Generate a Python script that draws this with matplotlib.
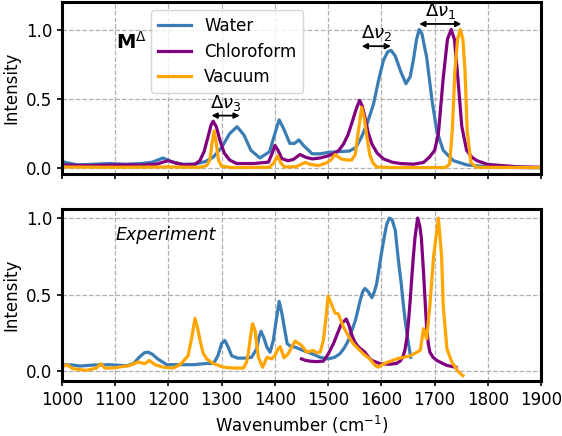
import numpy as np
import matplotlib
matplotlib.use('Agg')
import matplotlib.pyplot as plt

# computed spectra (top panel)
calc_water_x = [1000, 1010, 1030, 1060, 1090, 1120, 1150, 1170, 1190, 1205, 1225, 1250, 1270, 1284,
                1300, 1315, 1329, 1342, 1355, 1372, 1390, 1400, 1408, 1416, 1428, 1437, 1445, 1455,
                1470, 1485, 1500, 1520, 1540, 1552, 1562, 1573, 1585, 1595, 1604, 1612, 1618, 1626,
                1636, 1646, 1654, 1660, 1666, 1671, 1676, 1685, 1695, 1704, 1716, 1735, 1760, 1800,
                1850, 1900]
calc_water_y = [0.05, 0.04, 0.025, 0.03, 0.035, 0.03, 0.035, 0.045, 0.075, 0.05, 0.03, 0.03, 0.05, 0.08,
                0.15, 0.25, 0.30, 0.24, 0.13, 0.075, 0.12, 0.25, 0.35, 0.29, 0.18, 0.18, 0.205, 0.16,
                0.105, 0.105, 0.115, 0.12, 0.125, 0.15, 0.22, 0.32, 0.46, 0.64, 0.78, 0.84, 0.85, 0.81,
                0.70, 0.61, 0.66, 0.78, 0.93, 1.0, 0.97, 0.80, 0.49, 0.27, 0.13, 0.056, 0.025, 0.012,
                0.006, 0.004]

calc_chcl3_x = [1000, 1050, 1100, 1150, 1178, 1190, 1200, 1212, 1230, 1250, 1259, 1267, 1274, 1280,
                1284, 1290, 1297, 1305, 1315, 1328, 1360, 1388, 1395, 1400, 1406, 1413, 1425, 1435,
                1447, 1458, 1470, 1485, 1500, 1510, 1520, 1529, 1537, 1544, 1552, 1559, 1564, 1569,
                1575, 1582, 1592, 1604, 1620, 1635, 1660, 1679, 1690, 1700, 1707, 1716, 1724, 1731,
                1737, 1742, 1751, 1760, 1770, 1779, 1798, 1810, 1854, 1900]
calc_chcl3_y = [0.025, 0.02, 0.025, 0.025, 0.03, 0.045, 0.055, 0.04, 0.025, 0.03, 0.055, 0.12, 0.22, 0.31,
                0.34, 0.30, 0.20, 0.11, 0.06, 0.035, 0.035, 0.045, 0.11, 0.165, 0.13, 0.07, 0.055, 0.065,
                0.10, 0.08, 0.068, 0.075, 0.09, 0.105, 0.13, 0.176, 0.24, 0.32, 0.42, 0.49, 0.45, 0.37,
                0.26, 0.176, 0.11, 0.068, 0.045, 0.035, 0.03, 0.043, 0.08, 0.13, 0.25, 0.65, 0.93, 1.0,
                0.93, 0.72, 0.30, 0.13, 0.08, 0.056, 0.03, 0.025, 0.012, 0.008]

calc_vac_x = [1000, 1100, 1200, 1260, 1272, 1278, 1282, 1286, 1290, 1294, 1300, 1320, 1390, 1398,
              1405, 1411, 1418, 1440, 1450, 1457, 1465, 1482, 1497, 1505, 1513, 1520, 1525, 1535,
              1544, 1551, 1556, 1563, 1568, 1573, 1578, 1584, 1591, 1620, 1720, 1728, 1733, 1738,
              1743, 1748, 1753, 1757, 1761, 1768, 1778, 1900]
calc_vac_y = [0.01, 0.008, 0.01, 0.008, 0.02, 0.06, 0.18, 0.27, 0.18, 0.06, 0.015, 0.006, 0.008, 0.04,
              0.09, 0.04, 0.01, 0.012, 0.03, 0.043, 0.03, 0.02, 0.04, 0.06, 0.10, 0.08, 0.068, 0.06,
              0.06, 0.10, 0.25, 0.44, 0.36, 0.22, 0.10, 0.04, 0.01, 0.006, 0.006, 0.03, 0.27, 0.70,
              0.93, 1.0, 0.93, 0.70, 0.27, 0.043, 0.008, 0.006]

# experimental spectra (bottom panel)
exp_water_x = [1000, 1020, 1034, 1060, 1090, 1122, 1135, 1145, 1155, 1162, 1170, 1180, 1197, 1247,
               1272, 1285, 1293, 1300, 1306, 1312, 1319, 1330, 1345, 1356, 1366, 1370, 1374, 1379,
               1385, 1391, 1397, 1402, 1408, 1413, 1418, 1423, 1430, 1438, 1453, 1472, 1485, 1500,
               1512, 1522, 1530, 1538, 1545, 1551, 1556, 1560, 1565, 1569, 1575, 1582, 1587, 1591,
               1596, 1601, 1606, 1610, 1615, 1620, 1626, 1632, 1637, 1641, 1645, 1649, 1655]
exp_water_y = [0.042, 0.04, 0.033, 0.04, 0.042, 0.035, 0.05, 0.09, 0.12, 0.124, 0.11, 0.08, 0.042, 0.042,
               0.05, 0.05, 0.10, 0.18, 0.20, 0.16, 0.10, 0.085, 0.085, 0.09, 0.146, 0.22, 0.26, 0.22,
               0.157, 0.124, 0.20, 0.32, 0.456, 0.38, 0.28, 0.18, 0.16, 0.157, 0.135, 0.11, 0.09, 0.08,
               0.09, 0.113, 0.15, 0.20, 0.27, 0.33, 0.40, 0.46, 0.52, 0.54, 0.52, 0.48, 0.52, 0.57,
               0.68, 0.79, 0.89, 0.96, 1.0, 0.99, 0.92, 0.72, 0.58, 0.44, 0.32, 0.22, 0.09]

exp_chcl3_x = [1450, 1458, 1466, 1478, 1491, 1500, 1510, 1518, 1525, 1534, 1539, 1544, 1550, 1557,
               1569, 1576, 1582, 1598, 1616, 1628, 1635, 1640, 1644, 1648, 1651, 1654, 1657, 1660,
               1663, 1668, 1672, 1675, 1679, 1682, 1685, 1688, 1691, 1697, 1704, 1715, 1723, 1740]
exp_chcl3_y = [0.08, 0.07, 0.065, 0.062, 0.065, 0.11, 0.18, 0.25, 0.31, 0.34, 0.30, 0.24, 0.19, 0.157,
               0.124, 0.09, 0.07, 0.048, 0.045, 0.05, 0.065, 0.09, 0.135, 0.22, 0.33, 0.46, 0.61, 0.75,
               0.87, 1.0, 0.95, 0.87, 0.65, 0.46, 0.28, 0.18, 0.124, 0.09, 0.07, 0.05, 0.037, 0.025]

exp_vac_x = [1000, 1009, 1021, 1046, 1065, 1073, 1081, 1096, 1128, 1143, 1156, 1164, 1175, 1190,
             1209, 1222, 1237, 1244, 1250, 1255, 1259, 1265, 1272, 1284, 1303, 1322, 1341, 1347,
             1350, 1354, 1358, 1363, 1366, 1369, 1377, 1385, 1394, 1400, 1405, 1410, 1417, 1425,
             1432, 1438, 1450, 1460, 1472, 1478, 1485, 1491, 1496, 1500, 1507, 1513, 1519, 1529,
             1538, 1547, 1566, 1578, 1588, 1594, 1604, 1629, 1654, 1673, 1679, 1685, 1691, 1698,
             1707, 1713, 1716, 1723, 1732, 1745, 1753]
exp_vac_y = [0.026, 0.042, 0.016, 0.005, 0.02, 0.048, 0.02, 0.02, 0.037, 0.06, 0.048, 0.07, 0.042, 0.026,
             0.02, 0.042, 0.10, 0.22, 0.345, 0.28, 0.21, 0.12, 0.08, 0.05, 0.026, 0.02, 0.02, 0.06,
             0.113, 0.22, 0.31, 0.265, 0.17, 0.09, 0.026, 0.09, 0.08, 0.10, 0.14, 0.16, 0.087, 0.113,
             0.16, 0.196, 0.168, 0.124, 0.135, 0.12, 0.124, 0.20, 0.35, 0.49, 0.43, 0.38, 0.374, 0.287,
             0.23, 0.18, 0.113, 0.08, 0.037, 0.026, 0.048, 0.08, 0.10, 0.135, 0.277, 0.21, 0.43, 0.75,
             1.0, 0.75, 0.43, 0.146, 0.06, -0.006, -0.03]

labels = ['Water', 'Chloroform', 'Vacuum']
colors = ['#3a7db5', 'purple', 'orange']

# shift arrows: (start, end, height) in data units
shifts = {r'$\Delta\nu_1$': (1671, 1750, 1.04),
          r'$\Delta\nu_2$': (1563, 1618, 0.88),
          r'$\Delta\nu_3$': (1281, 1334, 0.38)}

fig, (ax1, ax2) = plt.subplots(2, 1, figsize=(5.62, 4.36), dpi=100, sharex=True)
fig.subplots_adjust(left=0.110, right=0.963, top=0.996, bottom=0.126, hspace=0.203)

top = [(calc_water_x, calc_water_y), (calc_chcl3_x, calc_chcl3_y), (calc_vac_x, calc_vac_y)]
bot = [(exp_water_x, exp_water_y), (exp_chcl3_x, exp_chcl3_y), (exp_vac_x, exp_vac_y)]
for (x, y), lab, c in zip(top, labels, colors):
    ax1.plot(x, y, color=c, lw=2.3, label=lab)
for (x, y), c in zip(bot, colors):
    ax2.plot(x, y, color=c, lw=2.3)

for txt, (a, b, h) in shifts.items():
    ax1.annotate('', xy=(a, h), xytext=(b, h),
                 arrowprops=dict(arrowstyle='<|-|>', color='black', lw=1.3, shrinkA=0, shrinkB=0,
                                 mutation_scale=8))
    ax1.text((a + b) / 2, h + 0.02, txt, ha='center', va='bottom', fontsize=13)

ax1.text(1102, 0.91, r'$\mathbf{M}^{\Delta}$', fontsize=14, va='center')
ax2.text(1101, 0.89, 'Experiment', fontsize=12.5, style='italic', va='center')

ax1.legend(loc='upper left', bbox_to_anchor=(0.186, 0.95), borderaxespad=0, fontsize=12,
           handlelength=2.0, labelspacing=0.45, handletextpad=0.8)

ax1.set_ylim(-0.04, 1.2)
ax2.set_ylim(-0.065, 1.06)
ax2.set_xlim(1000, 1900)
ax2.set_xticks(np.arange(1000, 1901, 100))
for ax in (ax1, ax2):
    ax.set_yticks([0.0, 0.5, 1.0])
    ax.set_ylabel('Intensity', fontsize=12)
    ax.grid(True, ls='--', color='#b0b0b0', lw=0.9)
    ax.tick_params(labelsize=12, width=1.2)
    for s in ax.spines.values():
        s.set_linewidth(2.2)
ax2.set_xlabel('Wavenumber (cm$^{-1}$)', fontsize=12)

plt.savefig('out.png', dpi=100)
